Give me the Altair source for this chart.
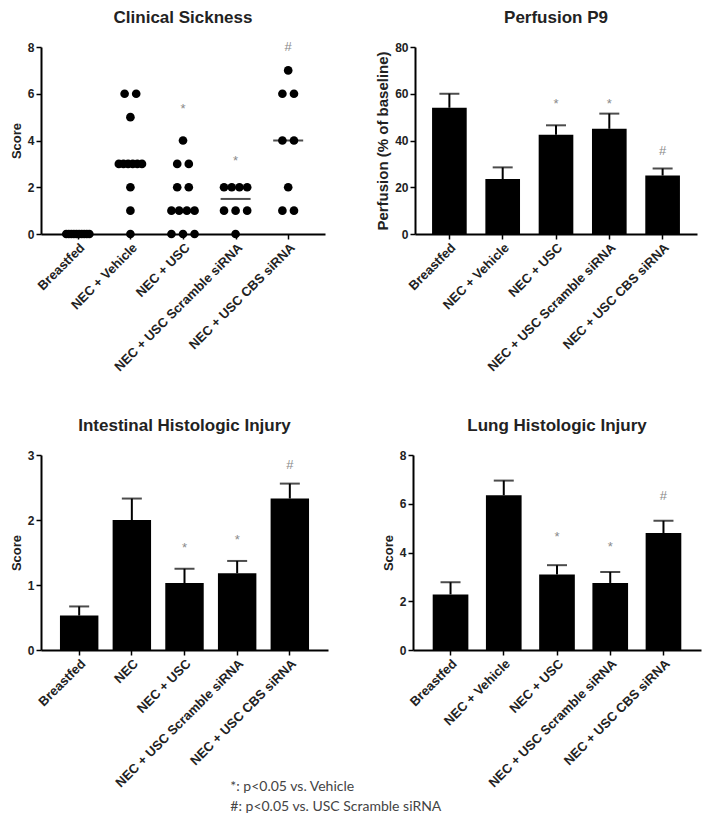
import altair as alt
import pandas as pd
import numpy as np

# ---------------- data ----------------
groups = ["Breastfed", "NEC + Vehicle", "NEC + USC", "NEC + USC Scramble siRNA", "NEC + USC CBS siRNA"]
groups_int = ["Breastfed", "NEC", "NEC + USC", "NEC + USC Scramble siRNA", "NEC + USC CBS siRNA"]

# Clinical sickness scores (individual animals)
clin_breastfed = [0, 0, 0, 0, 0, 0, 0, 0, 0, 0]
clin_vehicle = [6, 6, 5, 3, 3, 3, 3, 3, 3, 2, 1, 0]
clin_usc = [4, 3, 3, 2, 2, 1, 1, 1, 1, 0, 0, 0]
clin_scramble = [2, 2, 2, 2, 1, 1, 1, 0]
clin_cbs = [7, 6, 6, 4, 4, 2, 1, 1]
clin_marks = ["", "", "*", "*", "#"]
clin_mark_y = [None, None, 5.47, 3.24, 8.14]

# Perfusion P9 (% of baseline): mean and SEM
perf_mean = [54, 23.5, 42.5, 45, 25]
perf_sem = [6, 5, 4, 6.5, 3]
perf_marks = ["", "", "*", "*", "#"]
perf_mark_y = [None, None, 57, 57, 37]

# Intestinal histologic injury score
int_mean = [0.53, 2.0, 1.03, 1.18, 2.33]
int_sem = [0.14, 0.33, 0.22, 0.19, 0.23]
int_marks = ["", "", "*", "*", "#"]
int_mark_y = [None, None, 1.62, 1.74, 2.9]

# Lung histologic injury score
lung_mean = [2.28, 6.35, 3.1, 2.75, 4.8]
lung_sem = [0.5, 0.6, 0.38, 0.45, 0.5]
lung_marks = ["", "", "*", "*", "#"]
lung_mark_y = [None, None, 4.76, 4.34, 6.43]

legend_lines = ["*: p<0.05 vs. Vehicle", "#: p<0.05 vs. USC Scramble siRNA"]

FONT = "Liberation Sans"
MARK_GRAY = "#8a8a8a"


def title(text):
    return alt.Title(text, fontSize=17, fontWeight="bold", font=FONT, color="#222", offset=14)


def bar_panel(ttl, cats, means, sems, marks, mark_y, ymax, ystep, ytitle, width, height, po, pi,
              ytitle_size=13):
    df = pd.DataFrame({
        "group": cats,
        "mean": means,
        "top": [m + s for m, s in zip(means, sems)],
        "mark": marks,
        "mark_y": mark_y,
    })
    base = alt.Chart(df)
    x = alt.X("group:N", sort=cats,
              scale=alt.Scale(paddingInner=pi, paddingOuter=po),
              axis=alt.Axis(title=None, labelAngle=-45, labelFontSize=13, labelOverlap=False))
    yscale = alt.Scale(domain=[0, ymax], nice=False)
    bars = base.mark_bar(color="black").encode(
        x=x,
        y=alt.Y("mean:Q", scale=yscale,
                axis=alt.Axis(title=ytitle, values=list(np.arange(0, ymax + ystep / 2, ystep)),
                              format="d", titleFontSize=ytitle_size)),
    )
    err = base.mark_rule(color="black", strokeWidth=2).encode(x=x, y="mean:Q", y2="top:Q")
    cap = base.mark_tick(color="black", thickness=2, size=20, orient="horizontal").encode(
        x=x, y=alt.Y("top:Q", scale=yscale))
    txt = base.transform_filter("datum.mark != ''").mark_text(
        color=MARK_GRAY, fontSize=13, font=FONT, baseline="middle", dy=3
    ).encode(x=x, y=alt.Y("mark_y:Q", scale=yscale), text="mark:N")
    return alt.layer(bars, err, cap, txt).properties(width=width, height=height, title=title(ttl))


# ----- clinical sickness dot plot -----
clin_lists = [clin_breastfed, clin_vehicle, clin_usc, clin_scramble, clin_cbs]
rows = []
for gi, vals in enumerate(clin_lists):
    for v in sorted(set(vals)):
        n = vals.count(v)
        sp = 0.22 if n <= 1 else min(0.22, 0.44 / (n - 1))
        for k in range(n):
            rows.append({"gi": gi, "xpos": gi + (k - (n - 1) / 2) * sp, "score": v})
clin_df = pd.DataFrame(rows)
med_df = pd.DataFrame({"gi": list(range(5)), "median": [float(np.median(v)) for v in clin_lists]})
mark_df = pd.DataFrame({"gi": list(range(5)), "mark": clin_marks, "mark_y": clin_mark_y})

label_expr = "[" + ",".join("'" + g + "'" for g in groups) + "][datum.value]"
cx_scale = alt.Scale(domain=[-0.7, 4.7], nice=False, zero=False)
cy_scale = alt.Scale(domain=[0, 8], nice=False)
cx_axis = alt.Axis(title=None, values=[0, 1, 2, 3, 4], labelExpr=label_expr,
                   labelAngle=-45, labelFontSize=13, labelOverlap=False, labelFlush=False,
                   labelBound=False)

dots = alt.Chart(clin_df).mark_circle(color="black", opacity=1, size=75).encode(
    x=alt.X("xpos:Q", scale=cx_scale, axis=cx_axis),
    y=alt.Y("score:Q", scale=cy_scale,
            axis=alt.Axis(title="Score", values=[0, 2, 4, 6, 8])),
)
meds = alt.Chart(med_df).mark_tick(color="black", thickness=2, size=30, orient="horizontal").encode(
    x=alt.X("gi:Q", scale=cx_scale), y=alt.Y("median:Q", scale=cy_scale))
ctxt = alt.Chart(mark_df).transform_filter("datum.mark != ''").mark_text(
    color=MARK_GRAY, fontSize=13, font=FONT, baseline="middle", dy=3
).encode(x=alt.X("gi:Q", scale=cx_scale), y=alt.Y("mark_y:Q", scale=cy_scale), text="mark:N")
clin = alt.layer(meds, dots, ctxt).properties(width=284, height=187, title=title("Clinical Sickness"))

perf = bar_panel("Perfusion P9", groups, perf_mean, perf_sem, perf_marks, perf_mark_y,
                 80, 20, "Perfusion (% of baseline)", 282, 187, 0.32, 0.35, ytitle_size=15)
intes = bar_panel("Intestinal Histologic Injury", groups_int, int_mean, int_sem, int_marks, int_mark_y,
                  3, 1, "Score", 287, 195, 0.36, 0.27)
lung = bar_panel("Lung Histologic Injury", groups, lung_mean, lung_sem, lung_marks, lung_mark_y,
                 8, 2, "Score", 288, 195, 0.37, 0.33)

row1 = alt.hconcat(clin, perf, spacing=50)
row2 = alt.hconcat(intes, lung, spacing=54)

chart = alt.vconcat(row1, row2, spacing=43).properties(
    padding={"left": 2, "top": 0, "right": 2, "bottom": 2},
    title=alt.Title(legend_lines, orient="bottom", anchor="start", dx=220, offset=-10,
                    font="Lato", fontSize=14, fontWeight="normal", color="#444", lineHeight=20),
).configure_axis(
    domainColor="black", domainWidth=2, tickColor="black", tickWidth=1.5, tickSize=5,
    labelFont=FONT, labelFontWeight="bold", labelColor="#222", labelFontSize=12,
    titleFont=FONT, titleFontWeight="bold", titleColor="#222", titleFontSize=13,
    grid=False, labelPadding=2, titlePadding=4,
).configure_view(stroke=None)

chart.save("out.html", embed_options={"renderer": "svg", "actions": False})
